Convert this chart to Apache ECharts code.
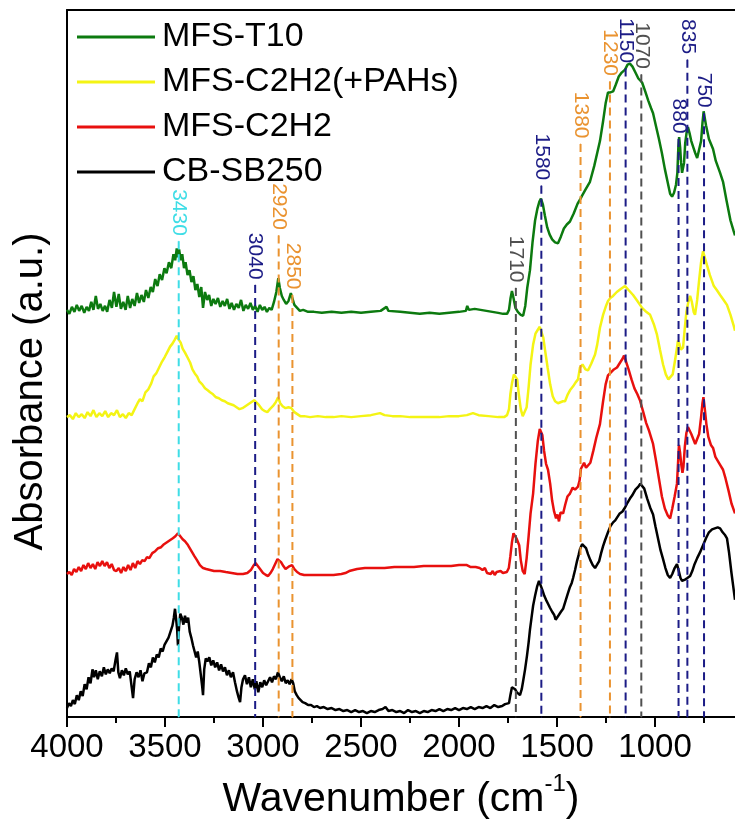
<!DOCTYPE html>
<html>
<head>
<meta charset="utf-8">
<script src="https://cdn.jsdelivr.net/npm/echarts@6/dist/echarts.min.js"></script>
<style>
html,body{margin:0;padding:0;background:#fff;}
#chart{width:735px;height:825px;}
</style>
</head>
<body>
<div id="chart"></div>
<script>
// ---- data (wavenumber cm^-1, absorbance in arbitrary offset units) ----
var seriesNames = ['MFS-T10', 'MFS-C2H2(+PAHs)', 'MFS-C2H2', 'CB-SB250'];
var seriesColors = ['#0c7a0f', '#f4f414', '#e8100e', '#000000'];

var greenData = [[4000,410],[3988,406],[3975,413],[3962,408],[3950,415],[3938,409],[3925,414],[3912,407],[3900,413],[3888,409],[3876,418],[3865,410],[3853,424],[3842,411],[3830,416],[3818,409],[3806,414],[3795,408],[3783,420],[3771,412],[3760,428],[3748,413],[3736,426],[3725,411],[3713,418],[3701,410],[3690,424],[3678,412],[3667,421],[3655,414],[3643,427],[3632,417],[3620,425],[3608,418],[3597,430],[3585,422],[3573,433],[3562,428],[3550,441],[3538,434],[3527,446],[3515,440],[3503,452],[3492,447],[3480,458],[3468,452],[3457,466],[3448,460],[3440,472],[3434,463],[3428,471],[3420,460],[3412,466],[3403,452],[3395,458],[3385,445],[3375,450],[3365,438],[3355,444],[3345,430],[3335,436],[3325,423],[3315,433],[3306,412],[3296,428],[3285,420],[3275,425],[3264,414],[3253,421],[3242,416],[3230,422],[3218,413],[3206,419],[3195,414],[3183,421],[3171,411],[3160,417],[3148,410],[3136,416],[3124,412],[3112,420],[3100,409],[3088,415],[3076,411],[3064,417],[3052,410],[3040,414],[3028,408],[3016,415],[3004,410],[2992,413],[2980,408],[2968,412],[2956,410],[2944,418],[2932,428],[2922,442],[2914,432],[2904,424],[2894,420],[2882,416],[2870,419],[2858,427],[2850,425],[2840,415],[2826,412],[2812,409],[2795,410],[2770,408],[2740,408],[2700,407],[2650,408],[2600,407],[2550,408],[2500,407],[2450,408],[2400,409],[2370,413],[2360,409],[2300,408],[2250,407],[2200,406],[2150,407],[2100,406],[2050,407],[2000,408],[1965,409],[1958,414],[1950,410],[1920,411],[1890,410],[1860,409],[1830,408],[1800,407],[1775,406],[1755,406],[1745,410],[1737,422],[1730,429],[1722,422],[1712,412],[1700,408],[1685,405],[1673,404],[1662,414],[1652,432],[1638,450],[1625,478],[1612,500],[1600,512],[1590,519],[1582,522],[1572,516],[1562,505],[1550,493],[1538,486],[1525,481],[1510,478],[1495,477],[1480,484],[1465,492],[1450,496],[1434,499],[1415,507],[1395,517],[1380,522],[1372,525],[1355,531],[1332,539],[1310,555],[1295,568],[1281,580],[1265,600],[1252,618],[1240,629],[1228,629],[1214,630],[1200,637],[1185,645],[1170,649],[1153,652],[1140,657],[1128,658],[1115,655],[1100,649],[1085,643],[1066,639],[1050,630],[1035,621],[1020,613],[1010,608],[995,595],[980,582],[965,568],[950,552],[935,538],[923,527],[913,524],[903,528],[893,536],[886,548],[881,574],[877,584],[872,574],[867,558],[862,548],[857,546],[852,558],[846,578],[838,590],[832,594],[824,588],[815,580],[805,574],[795,568],[785,563],[775,562],[765,580],[758,598],[752,610],[740,596],[725,582],[704,572],[690,560],[668,548],[653,539],[635,520],[615,500],[600,490],[592,485]];

var yellowData = [[4000,302],[3985,304],[3970,300],[3955,306],[3940,302],[3925,305],[3910,301],[3895,307],[3880,303],[3865,309],[3850,302],[3835,306],[3820,303],[3805,308],[3790,302],[3775,306],[3760,304],[3745,309],[3730,302],[3715,305],[3700,301],[3685,306],[3670,304],[3655,310],[3640,316],[3628,320],[3615,318],[3600,327],[3585,330],[3570,336],[3558,343],[3545,346],[3530,352],[3515,358],[3500,363],[3487,368],[3474,373],[3462,376],[3450,380],[3440,384],[3430,380],[3420,377],[3410,371],[3398,367],[3385,362],[3372,357],[3360,350],[3348,346],[3336,343],[3325,338],[3310,335],[3296,331],[3282,329],[3270,327],[3255,325],[3240,322],[3225,321],[3210,319],[3195,318],[3180,316],[3165,315],[3150,314],[3135,312],[3120,310],[3105,311],[3090,313],[3075,315],[3060,317],[3045,319],[3035,318],[3020,314],[3005,310],[2990,308],[2978,307],[2965,310],[2950,313],[2935,317],[2923,322],[2912,316],[2900,313],[2885,311],[2870,312],[2855,311],[2840,307],[2825,305],[2810,303],[2790,303],[2760,302],[2720,303],[2680,302],[2640,302],[2600,303],[2550,302],[2500,303],[2450,304],[2403,306],[2380,304],[2340,303],[2300,303],[2250,302],[2200,302],[2150,302],[2100,302],[2050,303],[2000,303],[1960,304],[1929,306],[1900,304],[1850,303],[1800,302],[1770,302],[1755,304],[1745,310],[1738,325],[1730,336],[1720,345],[1712,347],[1703,340],[1695,325],[1685,310],[1675,303],[1665,302],[1655,312],[1645,332],[1635,355],[1622,375],[1610,386],[1598,390],[1588,393],[1580,392],[1570,382],[1560,368],[1548,352],[1535,335],[1522,323],[1510,318],[1495,316],[1485,315],[1470,318],[1459,318],[1445,325],[1434,329],[1418,333],[1405,337],[1393,340],[1383,352],[1370,355],[1355,350],[1342,349],[1325,356],[1306,365],[1295,375],[1281,392],[1265,405],[1250,414],[1240,419],[1228,422],[1214,424],[1195,428],[1175,431],[1153,434],[1135,430],[1112,425],[1090,419],[1066,412],[1045,408],[1025,405],[1005,395],[990,385],[975,370],[959,355],[945,345],[932,340],[923,339],[910,345],[898,359],[888,372],[883,379],[876,376],[868,370],[857,372],[848,392],[840,408],[830,418],[821,424],[812,418],[803,408],[796,405],[785,420],[775,440],[765,458],[755,469],[745,462],[735,455],[720,445],[700,434],[685,430],[668,425],[650,420],[633,415],[615,405],[600,395],[592,389]];

var redData = [[4000,144],[3988,146],[3976,143],[3964,149],[3952,146],[3940,151],[3928,147],[3916,153],[3904,149],[3892,155],[3880,150],[3868,154],[3856,149],[3844,156],[3832,152],[3820,157],[3808,152],[3796,156],[3784,150],[3772,154],[3760,148],[3748,147],[3736,150],[3724,145],[3712,151],[3700,147],[3688,153],[3676,148],[3664,155],[3652,150],[3640,157],[3628,154],[3616,158],[3604,157],[3592,161],[3580,160],[3565,165],[3550,167],[3535,170],[3520,171],[3505,174],[3490,176],[3475,178],[3460,180],[3447,182],[3434,185],[3422,182],[3410,179],[3398,177],[3386,174],[3374,170],[3362,166],[3350,162],[3337,158],[3322,153],[3306,150],[3290,149],[3270,148],[3250,147],[3219,147],[3190,146],[3160,145],[3130,144],[3102,144],[3080,145],[3062,148],[3050,152],[3038,155],[3028,153],[3015,149],[3000,145],[2985,143],[2974,142],[2962,145],[2950,149],[2938,154],[2926,159],[2918,160],[2908,156],[2896,152],[2885,149],[2875,150],[2864,152],[2852,153],[2840,149],[2826,146],[2811,144],[2790,143],[2760,143],[2720,143],[2680,143],[2640,143],[2600,144],[2580,145],[2560,147],[2540,148],[2520,149],[2480,150],[2430,150],[2380,150],[2330,151],[2280,151],[2230,151],[2180,152],[2130,152],[2080,152],[2040,152],[2000,153],[1960,153],[1940,151],[1915,151],[1895,150],[1880,148],[1868,150],[1857,145],[1848,147],[1838,144],[1828,147],[1818,143],[1808,146],[1798,144],[1788,147],[1776,145],[1766,147],[1756,146],[1746,150],[1738,162],[1730,176],[1722,185],[1714,187],[1707,180],[1700,182],[1693,173],[1685,158],[1675,147],[1665,144],[1655,160],[1645,182],[1635,205],[1622,225],[1610,255],[1598,278],[1588,290],[1582,292],[1575,284],[1566,268],[1556,255],[1546,249],[1535,235],[1525,218],[1515,207],[1505,200],[1498,204],[1490,197],[1482,206],[1469,205],[1458,214],[1447,222],[1434,225],[1420,231],[1408,229],[1393,232],[1385,238],[1378,250],[1372,252],[1362,256],[1352,251],[1342,249],[1330,256],[1315,268],[1300,281],[1281,295],[1265,318],[1252,335],[1240,344],[1225,347],[1210,350],[1194,352],[1178,357],[1165,361],[1158,364],[1148,358],[1135,350],[1120,340],[1105,331],[1090,325],[1077,319],[1060,307],[1045,296],[1030,288],[1010,275],[995,258],[980,240],[965,222],[950,210],[935,203],[923,200],[912,210],[900,222],[888,235],[882,258],[878,274],[872,266],[866,254],[860,246],[855,252],[848,272],[840,286],[832,292],[825,291],[815,285],[805,280],[795,275],[785,273],[775,285],[765,302],[758,316],[753,322],[746,310],[738,295],[728,282],[715,274],[704,271],[692,262],[680,258],[668,254],[653,249],[640,240],[625,228],[610,215],[592,205]];

var blackData = [[4000,9],[3990,14],[3980,11],[3970,17],[3960,13],[3950,22],[3940,17],[3930,26],[3920,21],[3910,33],[3900,28],[3890,40],[3880,34],[3870,48],[3862,40],[3853,47],[3843,38],[3833,46],[3822,41],[3812,50],[3802,43],[3792,48],[3782,44],[3772,49],[3762,46],[3752,58],[3745,65],[3738,45],[3730,39],[3720,47],[3710,42],[3700,49],[3690,43],[3680,46],[3670,30],[3663,19],[3655,38],[3645,45],[3635,40],[3625,47],[3615,36],[3605,44],[3592,45],[3582,54],[3572,50],[3562,60],[3552,55],[3542,63],[3532,60],[3522,69],[3512,66],[3502,73],[3492,72],[3482,80],[3472,78],[3462,92],[3455,100],[3449,109],[3443,98],[3438,88],[3434,72],[3428,92],[3422,104],[3414,100],[3406,93],[3398,102],[3390,95],[3382,100],[3374,86],[3366,80],[3357,72],[3349,66],[3341,60],[3333,66],[3325,55],[3317,42],[3310,30],[3306,22],[3300,48],[3292,59],[3284,56],[3274,60],[3264,52],[3254,57],[3244,50],[3234,55],[3224,47],[3214,53],[3204,46],[3194,50],[3184,42],[3174,47],[3164,40],[3153,45],[3143,35],[3133,26],[3125,20],[3117,15],[3110,30],[3102,38],[3092,42],[3082,33],[3072,40],[3062,30],[3052,38],[3042,28],[3034,36],[3024,25],[3014,35],[3004,30],[2994,37],[2984,32],[2974,36],[2964,40],[2954,35],[2944,41],[2934,38],[2924,45],[2914,40],[2904,36],[2894,41],[2884,34],[2874,37],[2864,33],[2854,38],[2846,34],[2838,26],[2828,22],[2818,19],[2808,17],[2798,15],[2785,14],[2770,12],[2755,12],[2740,10],[2725,11],[2709,9],[2690,10],[2670,8],[2650,9],[2630,7],[2610,8],[2590,6],[2570,7],[2550,5],[2530,7],[2510,5],[2490,6],[2470,4],[2450,6],[2430,5],[2410,7],[2390,8],[2375,10],[2360,6],[2340,7],[2320,5],[2300,6],[2280,4],[2260,7],[2240,5],[2220,6],[2200,4],[2180,6],[2160,5],[2140,7],[2120,6],[2100,8],[2080,6],[2060,8],[2040,7],[2020,9],[2000,7],[1980,9],[1960,8],[1940,10],[1920,8],[1900,10],[1880,9],[1860,11],[1840,9],[1820,12],[1800,10],[1780,11],[1765,13],[1755,11],[1745,14],[1738,22],[1730,30],[1722,32],[1714,28],[1706,25],[1698,27],[1689,22],[1680,28],[1673,36],[1663,48],[1653,62],[1645,75],[1638,88],[1630,100],[1622,112],[1612,122],[1602,131],[1592,137],[1585,135],[1575,128],[1565,122],[1556,118],[1546,114],[1536,110],[1525,106],[1515,103],[1507,98],[1500,100],[1490,103],[1480,106],[1469,109],[1458,116],[1447,123],[1434,131],[1425,135],[1418,140],[1408,148],[1398,157],[1390,163],[1383,169],[1372,174],[1362,175],[1352,170],[1342,164],[1330,158],[1318,153],[1306,150],[1296,151],[1285,157],[1275,165],[1265,172],[1255,178],[1240,186],[1228,192],[1214,196],[1203,198],[1194,200],[1180,205],[1166,207],[1153,211],[1140,216],[1128,220],[1117,223],[1100,229],[1085,232],[1075,235],[1066,236],[1055,230],[1040,220],[1025,211],[1010,204],[998,192],[985,180],[972,168],[959,159],[947,150],[935,143],[923,140],[912,144],[900,150],[888,154],[880,148],[870,140],[862,137],[850,138],[835,140],[821,142],[810,147],[800,153],[785,160],[770,166],[755,173],[740,180],[725,186],[709,189],[695,190],[680,191],[668,190],[655,186],[642,183],[633,180],[622,165],[610,145],[600,130],[592,118]];

// peak markers
var peakWn    = [3430, 3040, 2920, 2850, 1710, 1580, 1380, 1230, 1150, 1070, 880, 835, 750];
var peakTop   = [479, 435, 485, 425, 432, 535, 577, 640, 653, 647, 582, 662, 608];
var peakGroup = ['cyan','navy','orange','orange','gray','navy','orange','orange','navy','gray','navy','navy','navy'];

var majorTicks = [4000, 3500, 3000, 2500, 2000, 1500, 1000];
var minorTicks = [3750, 3250, 2750, 2250, 1750, 1250, 750];

// ---- chart ----
var FONT = 'Liberation Sans, Arial, sans-serif';
var groupColor = {cyan:'#3fdde6', navy:'#1c1c86', orange:'#ea9330', gray:'#505050'};
var chart = echarts.init(document.getElementById('chart'), null, {renderer:'canvas'});

var series = [];
var spectra = [greenData, yellowData, redData, blackData];
for (var i = 0; i < spectra.length; i++) {
  series.push({
    name: seriesNames[i], type: 'line', data: spectra[i], showSymbol: false,
    symbol: 'none', smooth: false, sampling: 'none',
    lineStyle: {color: seriesColors[i], width: 2.5}, itemStyle: {color: seriesColors[i]},
    z: 3
  });
}
for (var k = 0; k < peakWn.length; k++) {
  var c = groupColor[peakGroup[k]];
  series.push({
    type: 'line', silent: true, showSymbol: true, symbol: 'circle', symbolSize: 1, z: 4,
    itemStyle: {color: c},
    lineStyle: {color: c, width: 2, type: [8, 5]},
    label: {show: false},
    labelLayout: {hideOverlap: false},
    data: [
      {value: [peakWn[k], peakTop[k]], label: {
        show: true, position: 'top', distance: 5, rotate: -90,
        align: 'right', verticalAlign: 'middle',
        formatter: String(peakWn[k]), color: c, fontSize: 21, fontFamily: FONT
      }},
      [peakWn[k], 0]
    ]
  });
}

chart.setOption({
  animation: false,
  backgroundColor: '#fff',
  grid: {left: 67, right: 0, top: 10, bottom: 103, containLabel: false},
  legend: {
    orient: 'vertical', left: 72, top: 15, itemWidth: 78, itemHeight: 3,
    itemGap: 11, icon: 'rect', data: seriesNames,
    textStyle: {fontSize: 34, fontFamily: FONT, color: '#000', lineHeight: 32, padding: [0,0,0,2]}
  },
  xAxis: [{
    type: 'value', min: 592, max: 4000, inverse: true, position: 'bottom',
    axisLine: {show: true, lineStyle: {color: '#000', width: 2}},
    axisTick: {show: true, customValues: majorTicks, length: 10, inside: false, lineStyle: {color:'#000', width: 2}},
    axisLabel: {show: true, customValues: majorTicks, fontSize: 33, fontFamily: FONT, color: '#000', margin: 14,
      formatter: function (v) { return String(v); }},
    splitLine: {show: false},
    name: '{a|Wavenumber (cm}{b|-1}{a|)}', nameLocation: 'middle', nameGap: 55,
    nameTextStyle: {rich: {
      a: {fontSize: 41, fontFamily: FONT, color: '#000', lineHeight: 48, verticalAlign: 'bottom'},
      b: {fontSize: 24, fontFamily: FONT, color: '#000', lineHeight: 24, verticalAlign: 'top'}
    }}
  }, {
    type: 'value', min: 592, max: 4000, inverse: true, position: 'bottom',
    axisLine: {show: false},
    axisTick: {show: true, customValues: minorTicks, length: 6, inside: false, lineStyle: {color:'#000', width: 2}},
    axisLabel: {show: false}, splitLine: {show: false}
  }, {
    type: 'value', min: 592, max: 4000, inverse: true, position: 'top',
    axisLine: {show: true, lineStyle: {color: '#000', width: 2}},
    axisTick: {show: false}, axisLabel: {show: false}, splitLine: {show: false}
  }],
  yAxis: {
    type: 'value', min: 0, max: 712,
    axisLine: {show: true, lineStyle: {color: '#000', width: 2}},
    axisTick: {show: false}, axisLabel: {show: false}, splitLine: {show: false},
    name: 'Absorbance (a.u.)', nameLocation: 'middle', nameGap: 16, nameRotate: 90,
    nameTextStyle: {fontSize: 40, fontFamily: FONT, color: '#000', padding: [0, 56, 0, 0]}
  },
  series: series
});
</script>
</body>
</html>
